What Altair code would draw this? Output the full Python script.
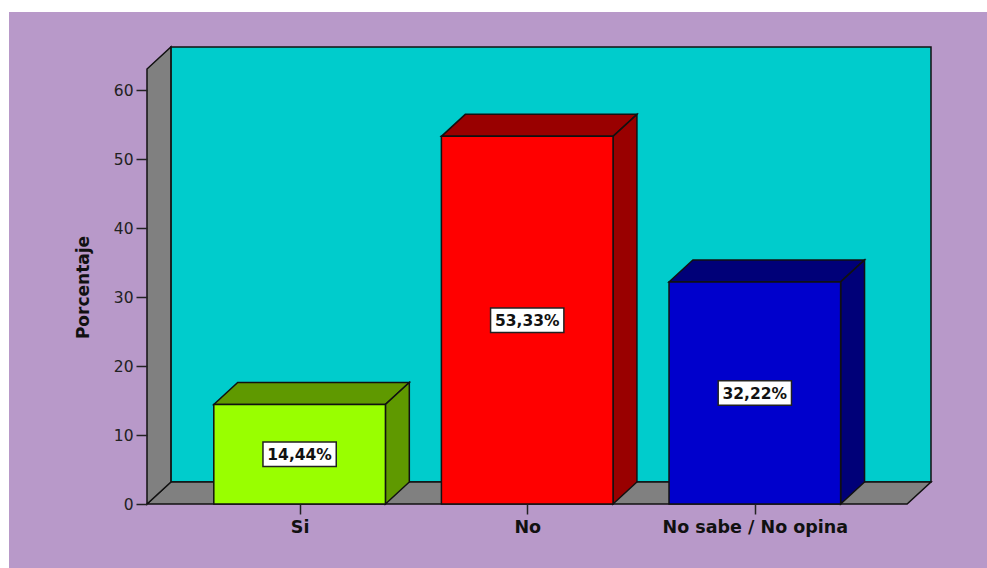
import json
import altair as alt
import pandas as pd

# Survey answers and their percentages
categories = ["Si", "No", "No sabe / No opina"]
values = [14.44, 53.33, 32.22]
front_colors = ["#99FF00", "#FF0000", "#0000CC"]
shade_colors = ["#5F9900", "#990000", "#000078"]
y_ticks = [0, 10, 20, 30, 40, 50, 60]

# Pseudo-3D geometry (x in category steps, y in percent)
BAR_HALF = 0.377      # half of bar width
DX = 0.105            # depth shift to the right
DY = 3.19             # depth shift upwards
X_MIN, X_MAX = -0.6705, 2.774
FLOOR_R = X_MAX - DX  # front-right corner of the floor
WALL_TOP = 63.1       # front top of the left wall
Y_MAX = WALL_TOP + DY

WALL_FILL = "#00CCCC"
SIDE_FILL = "#808080"
BG_FILL = "#B899C9"
EDGE = "#111111"

W, H = 784, 457
PAD = {"left": 147, "top": 47, "right": 987 - 147 - W, "bottom": 568 - 47 - H}

xs = alt.Scale(domain=[X_MIN, X_MAX], nice=False, zero=False)
ys = alt.Scale(domain=[0, Y_MAX], nice=False, zero=True)

label_expr = f"{json.dumps(categories)}[datum.value]"
x_axis = alt.Axis(
    values=list(range(len(categories))), labelExpr=label_expr, title=None,
    domain=False, grid=False, tickSize=10, tickColor="#222", tickWidth=1.5,
    labelFont="DejaVu Sans", labelFontWeight="bold", labelFontSize=17.5,
    labelColor="#111", labelPadding=4, labelFlush=False, labelOverlap=False,
    labelLimit=0, zindex=1,
)
y_axis = alt.Axis(
    values=y_ticks, title="Porcentaje", domain=False, grid=False,
    tickSize=11, tickColor="#222", tickWidth=1.5,
    labelFont="DejaVu Sans", labelFontSize=15.5, labelColor="#222", labelPadding=3,
    titleFont="DejaVu Sans", titleFontWeight="bold", titleFontSize=17,
    titleColor="#111", titleAngle=-90, titleAlign="center", titleBaseline="middle",
    titleX=-64, titleY=240, zindex=1,
)


def X(field):
    return alt.X(f"{field}:Q", scale=xs, axis=x_axis)


def Y(field):
    return alt.Y(f"{field}:Q", scale=ys, axis=y_axis, stack=None)


# Back wall
wall_df = pd.DataFrame([{"x0": X_MIN + DX, "x1": X_MAX, "y0": DY, "y1": Y_MAX}])
back_wall = alt.Chart(wall_df).mark_rect(
    fill=WALL_FILL, stroke=EDGE, strokeWidth=1.5
).encode(x=X("x0"), x2="x1:Q", y=Y("y0"), y2="y1:Q")

# Floor and left side wall as parallelograms
frame_rows = [
    {"face": "floor", "x": X_MIN, "lo": 0, "hi": 0},
    {"face": "floor", "x": X_MIN + DX, "lo": 0, "hi": DY},
    {"face": "floor", "x": FLOOR_R, "lo": 0, "hi": DY},
    {"face": "floor", "x": FLOOR_R + DX, "lo": DY, "hi": DY},
    {"face": "side", "x": X_MIN, "lo": 0, "hi": WALL_TOP},
    {"face": "side", "x": X_MIN + DX, "lo": DY, "hi": WALL_TOP + DY},
]
frame = alt.Chart(pd.DataFrame(frame_rows)).mark_area(
    fill=SIDE_FILL, stroke=EDGE, strokeWidth=1.5, interpolate="linear"
).encode(x=X("x"), y=Y("lo"), y2="hi:Q", detail="face:N")

# Bars: top and right faces
face_rows = []
fronts = []
for i, (cat, v, fc, sc) in enumerate(zip(categories, values, front_colors, shade_colors)):
    c = float(i)
    top = f"top{i}"
    side = f"side{i}"
    face_rows += [
        {"face": top, "x": c - BAR_HALF, "lo": v, "hi": v, "fill": sc},
        {"face": top, "x": c - BAR_HALF + DX, "lo": v, "hi": v + DY, "fill": sc},
        {"face": top, "x": c + BAR_HALF, "lo": v, "hi": v + DY, "fill": sc},
        {"face": top, "x": c + BAR_HALF + DX, "lo": v + DY, "hi": v + DY, "fill": sc},
        {"face": side, "x": c + BAR_HALF, "lo": 0, "hi": v, "fill": sc},
        {"face": side, "x": c + BAR_HALF + DX, "lo": DY, "hi": v + DY, "fill": sc},
    ]
    fronts.append({
        "cat": cat, "x0": c - BAR_HALF, "x1": c + BAR_HALF, "y0": 0, "y1": v,
        "fill": fc, "xc": c, "yc": v / 2,
        "label": f"{v:.2f}".replace(".", ",") + "%",
    })

faces_df = pd.DataFrame(face_rows)
fronts_df = pd.DataFrame(fronts)

bar_faces = alt.Chart(faces_df).mark_area(
    stroke=EDGE, strokeWidth=1.5, interpolate="linear"
).encode(
    x=X("x"), y=Y("lo"), y2="hi:Q", detail="face:N",
    fill=alt.Fill("fill:N", scale=None),
)

bar_fronts = alt.Chart(fronts_df).mark_rect(stroke=EDGE, strokeWidth=1.5).encode(
    x=X("x0"), x2="x1:Q", y=Y("y0"), y2="y1:Q",
    fill=alt.Fill("fill:N", scale=None),
)

# Value labels in white boxes, centred on each bar's front face
BOX_HW = 0.161
BOX_HH = 1.78
box_df = fronts_df.assign(
    bx0=fronts_df["xc"] - BOX_HW, bx1=fronts_df["xc"] + BOX_HW,
    by0=fronts_df["yc"] - BOX_HH, by1=fronts_df["yc"] + BOX_HH,
)
boxes = alt.Chart(box_df).mark_rect(
    fill="white", stroke="#222", strokeWidth=1.5
).encode(x=X("bx0"), x2="bx1:Q", y=Y("by0"), y2="by1:Q")

texts = alt.Chart(fronts_df).mark_text(
    font="DejaVu Sans", fontWeight="bold", fontSize=15.5, color="#111",
    baseline="middle", align="center", dy=1,
).encode(x=X("xc"), y=Y("yc"), text="label:N")

# Lavender panel behind the whole chart
panel = alt.Chart(pd.DataFrame([{"k": 0}])).mark_rect(fill=BG_FILL).encode(
    x=alt.value(9 - PAD["left"]), x2=alt.value(W + PAD["right"]),
    y=alt.value(12 - PAD["top"]), y2=alt.value(H + PAD["bottom"]),
)

chart = alt.layer(
    panel, back_wall, frame, bar_faces, bar_fronts, boxes, texts
).properties(
    width=W, height=H, padding=PAD,
    autosize=alt.AutoSizeParams(type="none"),
    background="white",
).configure_view(stroke=None)

chart.save("out.html", embed_options={"renderer": "svg", "actions": False})
